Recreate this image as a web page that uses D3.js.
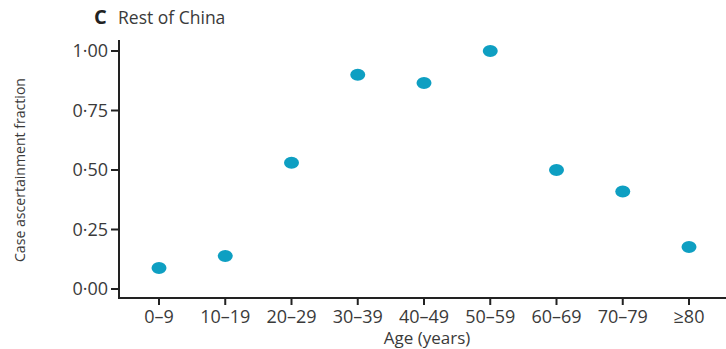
<!DOCTYPE html>
<html><head><meta charset="utf-8">
<script src="https://cdn.jsdelivr.net/npm/d3@7"></script>
<style>body{margin:0;background:#fff;} text{font-family:"Open Sans","Noto Sans",sans-serif;}</style>
</head><body>
<svg id="c" width="726" height="349"></svg>
<script>
const categories = ["0–9","10–19","20–29","30–39","40–49","50–59","60–69","70–79","≥80"];
const values = [0.088, 0.139, 0.53, 0.90, 0.866, 1.00, 0.50, 0.41, 0.176];
const yTicks = [0, 0.25, 0.5, 0.75, 1.0];

const svg = d3.select("#c");
const axisX = 119, axisY = 298;
const x = d3.scalePoint().domain(categories).range([159, 689]);
const y = d3.scaleLinear().domain([0, 1]).range([289, 51]);
const ink = "#222", txt = "#3a3a3a";

svg.append("line").attr("x1", axisX).attr("x2", axisX).attr("y1", 40).attr("y2", axisY)
  .attr("stroke", ink).attr("stroke-width", 2);
svg.append("line").attr("x1", axisX - 1).attr("x2", 726).attr("y1", axisY).attr("y2", axisY)
  .attr("stroke", ink).attr("stroke-width", 2);

const fmt = v => d3.format(".2f")(v).replace(".", "·");
const yt = svg.append("g");
yTicks.forEach(v => {
  yt.append("line").attr("x1", axisX - 8).attr("x2", axisX).attr("y1", y(v)).attr("y2", y(v))
    .attr("stroke", ink).attr("stroke-width", 2);
  yt.append("text").attr("x", axisX - 11).attr("y", y(v)).attr("dy", "0.36em")
    .attr("text-anchor", "end").attr("font-size", 18).attr("fill", txt).text(fmt(v));
});
const xt = svg.append("g");
categories.forEach(c => {
  xt.append("line").attr("x1", x(c)).attr("x2", x(c)).attr("y1", axisY).attr("y2", axisY + 7)
    .attr("stroke", ink).attr("stroke-width", 2);
  xt.append("text").attr("x", x(c)).attr("y", axisY + 25)
    .attr("text-anchor", "middle").attr("font-size", 18).attr("fill", txt).text(c);
});

svg.append("text").attr("x", 427).attr("y", 344).attr("text-anchor", "middle")
  .attr("font-size", 17).attr("fill", txt).text("Age (years)");
svg.append("text").attr("transform", "translate(25,170) rotate(-90)").attr("text-anchor", "middle")
  .attr("font-size", 15).attr("fill", txt).attr("textLength", 184).attr("lengthAdjust", "spacingAndGlyphs")
  .text("Case ascertainment fraction");

svg.append("text").attr("x", 94).attr("y", 24).attr("font-size", 20).attr("font-weight", "bold")
  .attr("fill", "#222").text("C");
svg.append("text").attr("x", 118).attr("y", 24).attr("font-size", 17.5).attr("fill", txt).text("Rest of China");

svg.append("g").selectAll("ellipse").data(values).join("ellipse")
  .attr("cx", (d, i) => x(categories[i])).attr("cy", d => y(d))
  .attr("rx", 7.5).attr("ry", 6).attr("fill", "#0e9fc2");
</script>
</body></html>
